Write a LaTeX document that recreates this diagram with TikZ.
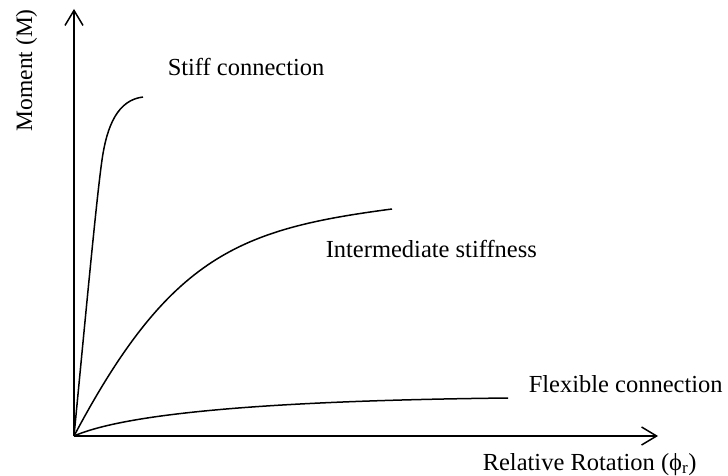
\documentclass[tikz,border=0pt]{standalone}
\usepackage{fontspec}
\setmainfont{Liberation Serif}
\usetikzlibrary{arrows.meta}
\begin{document}
\begin{tikzpicture}[x=1pt, y=-1pt, line width=1.5pt,
		>={Straight Barb[length=15pt,width=18pt]},
		lbl/.style={anchor=base west, inner sep=0pt, font=\fontsize{24.5}{29}\selectfont}]
			\useasboundingbox (0,0) rectangle (728,476);
			\coordinate (o) at (74,436);
			\coordinate (ytip) at (74,9);
			\coordinate (xtip) at (658,436);
			\coordinate (stiffbend) at (102,160);
			\coordinate (stiffend) at (143,97);
			\coordinate (interend) at (392,209);
			\coordinate (flexend) at (508,398);
			\draw [->] (o) -- (ytip);
			\draw [->] (o) -- (xtip);
			\node [lbl, rotate=90, font=\fontsize{23.5}{28}\selectfont] (ylab) at (32,132) {Moment (M)};
			\node [lbl] (xlab) at (482,470) {Relative Rotation (ϕ\textsubscript{r})};
			% the three curves
			\draw (o) .. controls (88,290) and (97,195) .. (stiffbend) .. controls (107,125) and (118,100) .. (stiffend);
			\draw (o) .. controls (170,255) and (240,229) .. (interend);
			\draw (o) .. controls (138,408) and (330,400) .. (flexend);
			\node [lbl] (stiff) at (167,76) {Stiff connection};
			\node [lbl] (inter) at (325,257) {Intermediate stiffness};
			\node [lbl] (flex) at (528,392) {Flexible connection};
		\end{tikzpicture}
\end{document}
